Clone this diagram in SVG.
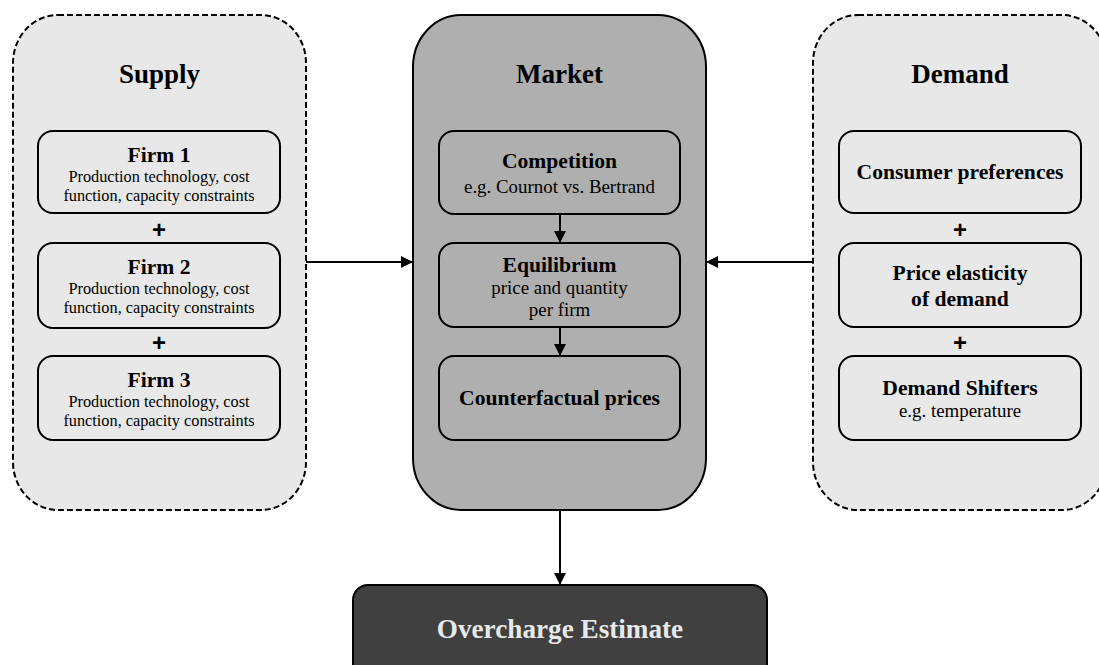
<svg xmlns="http://www.w3.org/2000/svg" width="1099" height="665" viewBox="0 0 1099 665">
<style>
.outer{fill:#e8e8e8;stroke:#000;stroke-width:2;stroke-dasharray:6 3}
.market{fill:#afafaf;stroke:#000;stroke-width:2}
.box{fill:#e8e8e8;stroke:#000;stroke-width:2}
.mbox{fill:#afafaf;stroke:#000;stroke-width:2}
.result{fill:#404040;stroke:#000;stroke-width:2}
text{font-family:"Liberation Serif","Times New Roman",serif;text-anchor:middle;fill:#000}
.title{font-size:27px;font-weight:bold}
.lbl{font-size:21.6px;font-weight:bold}
.sm{font-size:16.3px}
.md{font-size:18.9px}
.plus{font-family:"Liberation Sans",Arial,sans-serif;font-size:24px;font-weight:bold}
.res{font-size:27.2px;font-weight:bold;fill:#e8e8e8}
.conn{stroke:#000;stroke-width:2;fill:none}
</style>
<defs>
<marker id="ah" viewBox="0 0 12 12" refX="12" refY="6" markerWidth="12" markerHeight="12" markerUnits="userSpaceOnUse" orient="auto">
<path d="M0,0 L12,6 L0,12 Z" fill="#000"/>
</marker>
</defs>
<rect width="1099" height="665" fill="#fff"/>

<g id="supply">
<rect class="outer" x="13" y="15" width="293" height="495" rx="45" ry="48"/>
<text class="title" x="159.5" y="83">Supply</text>
<text class="plus" x="159" y="238">+</text>
<text class="plus" x="159" y="351">+</text>
</g>
<g id="firm1">
<rect class="box" x="38" y="131" width="242" height="82" rx="15" ry="15"/>
<text class="lbl" x="159" y="162">Firm 1</text>
<text class="sm" x="159" y="182">Production technology, cost</text>
<text class="sm" x="159" y="201">function, capacity constraints</text>
</g>
<g id="firm2">
<rect class="box" x="38" y="243" width="242" height="85" rx="15" ry="15"/>
<text class="lbl" x="159" y="274">Firm 2</text>
<text class="sm" x="159" y="294">Production technology, cost</text>
<text class="sm" x="159" y="313">function, capacity constraints</text>
</g>
<g id="firm3">
<rect class="box" x="38" y="356" width="242" height="84" rx="15" ry="15"/>
<text class="lbl" x="159" y="387">Firm 3</text>
<text class="sm" x="159" y="407">Production technology, cost</text>
<text class="sm" x="159" y="426">function, capacity constraints</text>
</g>

<g id="market">
<rect class="market" x="413" y="15" width="293" height="495" rx="48" ry="52"/>
<text class="title" x="559.5" y="83">Market</text>
</g>
<g id="competition">
<rect class="mbox" x="439" y="131" width="241" height="83" rx="15" ry="15"/>
<text class="lbl" x="559.5" y="168">Competition</text>
<text class="md" x="559.5" y="193">e.g. Cournot vs. Bertrand</text>
</g>
<g id="equilibrium">
<rect class="mbox" x="439" y="243" width="241" height="84" rx="15" ry="15"/>
<text class="lbl" x="559.5" y="272">Equilibrium</text>
<text class="md" x="559.5" y="294">price and quantity</text>
<text class="md" x="559.5" y="316">per firm</text>
</g>
<g id="counterfactual">
<rect class="mbox" x="439" y="356" width="241" height="84" rx="15" ry="15"/>
<text class="lbl" x="559.5" y="405">Counterfactual prices</text>
</g>

<g id="demand">
<rect class="outer" x="813" y="15" width="294" height="495" rx="45" ry="48"/>
<text class="title" x="960" y="83">Demand</text>
<text class="plus" x="960" y="238">+</text>
<text class="plus" x="960" y="351">+</text>
</g>
<g id="preferences">
<rect class="box" x="839" y="131" width="242" height="82" rx="15" ry="15"/>
<text class="lbl" x="960" y="179">Consumer preferences</text>
</g>
<g id="elasticity">
<rect class="box" x="839" y="243" width="242" height="84" rx="15" ry="15"/>
<text class="lbl" x="960" y="280">Price elasticity</text>
<text class="lbl" x="960" y="306">of demand</text>
</g>
<g id="shifters">
<rect class="box" x="839" y="356" width="242" height="84" rx="15" ry="15"/>
<text class="lbl" x="960" y="395">Demand Shifters</text>
<text class="md" x="960" y="417">e.g. temperature</text>
</g>

<g id="overcharge">
<rect class="result" x="353" y="585" width="414" height="110" rx="15" ry="15"/>
<text class="res" x="560" y="638">Overcharge Estimate</text>
</g>

<g id="connectors">
<line class="conn" x1="306" y1="262" x2="413" y2="262" marker-end="url(#ah)"/>
<line class="conn" x1="813" y1="262" x2="706" y2="262" marker-end="url(#ah)"/>
<line class="conn" x1="560" y1="214" x2="560" y2="243" marker-end="url(#ah)"/>
<line class="conn" x1="560" y1="327" x2="560" y2="356" marker-end="url(#ah)"/>
<line class="conn" x1="560" y1="510" x2="560" y2="585" marker-end="url(#ah)"/>
</g>
</svg>
